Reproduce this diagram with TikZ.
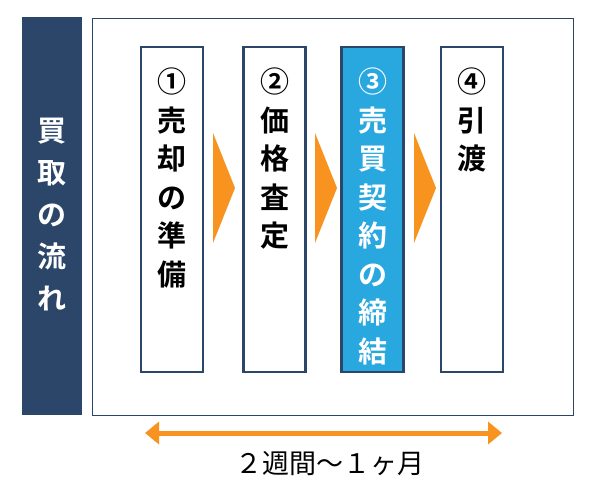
\documentclass[tikz,border=0pt]{standalone}
\usepackage{fontspec}
\newfontfamily\jpfont{Noto Sans CJK JP}[BoldFont={Noto Sans CJK JP Bold}]
\usetikzlibrary{arrows.meta}
\definecolor{navy}{HTML}{2B4669}
\definecolor{skyblue}{HTML}{29A8E0}
\definecolor{arroworange}{HTML}{F7931E}
\tikzset{
  stepbox/.style={draw=navy, line width=2.2pt, fill=white, minimum width=62pt,
    minimum height=325pt, anchor=north, inner sep=0pt},
  steptext/.style={anchor=north, align=center, inner sep=0pt, font=\jpfont\bfseries\fontsize{29}{38.5}\selectfont},
  chevron/.style={fill=arroworange, draw=none}
}
\begin{document}
\begin{tikzpicture}[x=1pt,y=-1pt]
  \useasboundingbox (0,0) rectangle (600,491);
  % side label
  \node[fill=navy, minimum width=60pt, minimum height=398pt, anchor=north west, inner sep=0pt] (side) at (22,17) {};
  \node[steptext, text=white, font=\jpfont\bfseries\fontsize{29}{42}\selectfont] (sidetext) at (52,118) {買\\取\\の\\流\\れ};
  \node[draw=navy, line width=0.6pt, minimum width=481pt, minimum height=397pt, anchor=north west, inner sep=0pt] (frame) at (92,18) {};
  % steps
  \node[stepbox] (s1) at (172,46) {};
  \node[stepbox] (s2) at (274.5,46) {};
  \node[stepbox, fill=skyblue] (s3) at (372.5,46) {};
  \node[stepbox] (s4) at (472,46) {};
  \node[steptext] (t1) at (s1.north) [yshift=-22pt] {①\\売\\却\\の\\準\\備};
  \node[steptext] (t2) at (s2.north) [yshift=-22pt] {②\\価\\格\\査\\定};
  \node[steptext, text=white] (t3) at (s3.north) [yshift=-22pt] {③\\売\\買\\契\\約\\の\\締\\結};
  \node[steptext] (t4) at (s4.north) [yshift=-22pt] {④\\引\\渡};
  \foreach \x in {213,315,414} {
    \fill[chevron] (\x,133) -- (\x+22,188) -- (\x,243) -- cycle;
  }
  % duration
  \coordinate (la) at (145,433);
  \coordinate (ra) at (502,433);
  \draw[arroworange, line width=5pt, {Triangle[length=14pt,width=22pt]}-{Triangle[length=14pt,width=22pt]}] (la) -- (ra);
  \node[font=\jpfont\fontsize{27}{30}\selectfont] (period) at (330,464) {２週間〜１ヶ月};
\end{tikzpicture}
\end{document}
